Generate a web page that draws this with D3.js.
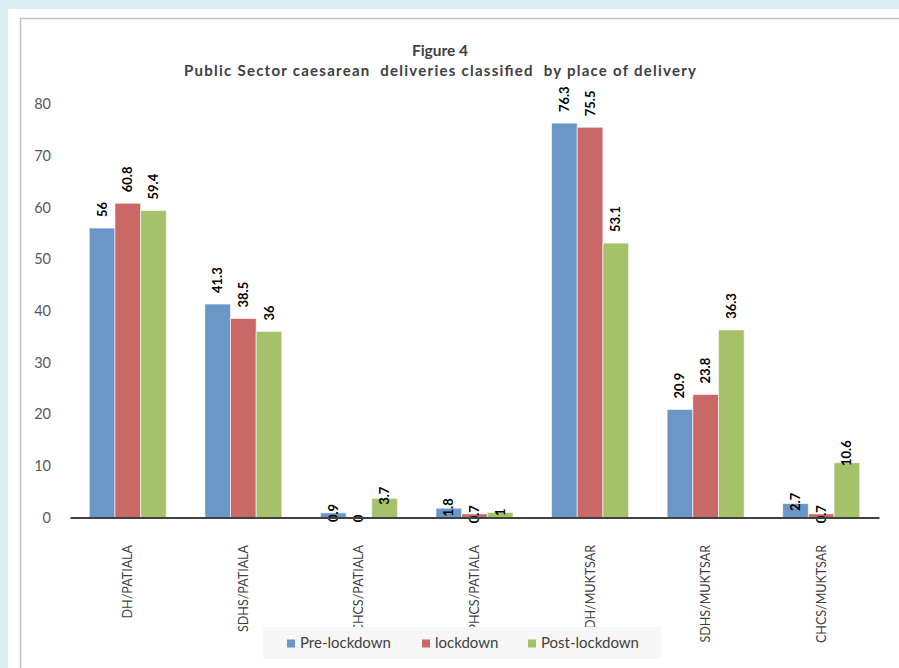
<!DOCTYPE html>
<html>
<head>
<meta charset="utf-8">
<script src="https://cdn.jsdelivr.net/npm/d3@7"></script>
<style>
  html, body { margin: 0; padding: 0; background: #daedf1; }
  svg { display: block; }
  text { font-family: Lato, "Open Sans", "DejaVu Sans", sans-serif; }
</style>
</head>
<body>
<svg id="chart" width="899" height="668"></svg>
<script>
const categories = ["DH/PATIALA", "SDHS/PATIALA", "CHCS/PATIALA", "PHCS/PATIALA", "DH/MUKTSAR", "SDHS/MUKTSAR", "CHCS/MUKTSAR"];
const preLockdown = [56, 41.3, 0.9, 1.8, 76.3, 20.9, 2.7];
const lockdown = [60.8, 38.5, 0, 0.7, 75.5, 23.8, 0.7];
const postLockdown = [59.4, 36, 3.7, 1, 53.1, 36.3, 10.6];
const seriesNames = ["Pre-lockdown", "lockdown", "Post-lockdown"];
const yTicks = [0, 10, 20, 30, 40, 50, 60, 70, 80];
const titleLines = ["Figure 4", "Public Sector caesarean  deliveries classified  by place of delivery"];

const colors = ["#6a96c8", "#c96866", "#a5c26b"];
const seriesValues = [preLockdown, lockdown, postLockdown];

const svg = d3.select("#chart");

// panel backgrounds
svg.append("rect").attr("x", 0).attr("y", 0).attr("width", 899).attr("height", 668).attr("fill", "#daedf1");
svg.append("rect").attr("x", 8).attr("y", 9).attr("width", 900).attr("height", 670).attr("fill", "#ffffff");
svg.append("rect").attr("x", 20.5).attr("y", 18.5).attr("width", 900).attr("height", 700)
  .attr("fill", "#ffffff").attr("stroke", "#c4c4c4").attr("stroke-width", 1.5);

// scales
const x0 = d3.scaleBand().domain(categories).range([70, 879]).paddingInner(0).paddingOuter(0);
const groupPad = 1.5 / 4.5;
const x1 = d3.scaleBand().domain(d3.range(3))
  .range([x0.bandwidth() * groupPad / 2, x0.bandwidth() * (1 - groupPad / 2)]);
const y = d3.scaleLinear().domain([0, 80]).range([517.5, 104]);

// title
const title = svg.append("g");
title.append("text").attr("x", 440).attr("y", 56).attr("text-anchor", "middle")
  .attr("font-size", 15.5).attr("font-weight", "bold").attr("fill", "#404040").text(titleLines[0]);
title.append("text").attr("x", 440).attr("y", 76).attr("text-anchor", "middle")
  .style("white-space", "pre")
  .attr("textLength", 512).attr("lengthAdjust", "spacing")
  .attr("font-size", 15).attr("font-weight", "bold").attr("fill", "#404040").text(titleLines[1]);

// y tick labels (no axis line)
const yAxis = d3.axisLeft(y).tickValues(yTicks).tickSize(0).tickPadding(0);
const yg = svg.append("g").attr("transform", "translate(51,0)").call(yAxis);
yg.select(".domain").remove();
yg.selectAll("text").attr("font-size", 14.5).attr("fill", "#595959")
  .attr("font-family", "Lato, 'Open Sans', sans-serif");

// bars
const groups = svg.append("g").selectAll("g").data(categories).join("g")
  .attr("transform", d => `translate(${x0(d)},0)`);

groups.each(function(cat, ci) {
  const g = d3.select(this);
  seriesValues.forEach((vals, si) => {
    const v = vals[ci];
    g.append("rect")
      .attr("x", x1(si)).attr("width", x1.bandwidth())
      .attr("y", y(v)).attr("height", y(0) - y(v))
      .attr("fill", colors[si]).attr("stroke", "#ffffff").attr("stroke-opacity", 0.6).attr("stroke-width", 1);
  });
});

// x axis line
const xAxis = d3.axisBottom(x0).tickSize(0).tickFormat("");
const xg = svg.append("g").attr("transform", `translate(0,${y(0)})`).call(xAxis);
xg.select(".domain").attr("stroke", "#404040").attr("stroke-width", 2.2);

// x category labels (rotated)
svg.append("g").selectAll("text").data(categories).join("text")
  .attr("transform", d => `translate(${x0(d) + x0.bandwidth() / 2 + 4.5},545) rotate(-90)`)
  .attr("text-anchor", "end")
  .attr("font-size", 12.5).attr("fill", "#404040")
  .text(d => d);

// data labels
groups.each(function(cat, ci) {
  const g = d3.select(this);
  seriesValues.forEach((vals, si) => {
    const v = vals[ci];
    const cx = x1(si) + x1.bandwidth() / 2;
    const t = g.append("text")
      .attr("font-size", 13).attr("font-weight", "bold").attr("fill", "#000")
      .text(String(v));
    if (v >= 15) {
      t.attr("text-anchor", "start")
        .attr("transform", `translate(${cx + 4.5},${y(v) - 11}) rotate(-90)`);
    } else {
      t.attr("text-anchor", "middle")
        .attr("transform", `translate(${cx + 4.5},${y(v) - (v - 1)}) rotate(-90)`);
    }
  });
});

// legend
const legend = svg.append("g");
legend.append("rect").attr("x", 263).attr("y", 627).attr("width", 398).attr("height", 32).attr("fill", "#f7f7f7");
const legendX = [287, 422, 528];
seriesNames.forEach((name, i) => {
  legend.append("rect").attr("x", legendX[i]).attr("y", 639.5).attr("width", 8).attr("height", 8).attr("fill", colors[i]);
  legend.append("text").attr("x", legendX[i] + 13).attr("y", 648)
    .attr("font-size", 15).attr("fill", "#404040").text(name);
});
</script>
</body>
</html>
